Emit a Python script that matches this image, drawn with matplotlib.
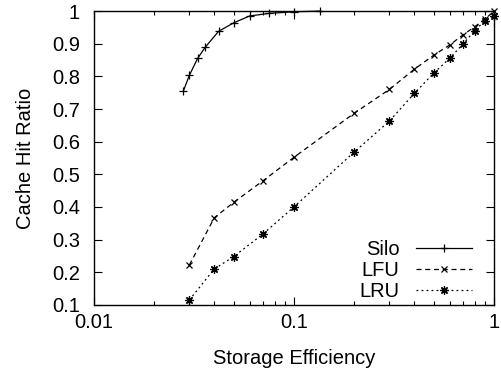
import matplotlib
matplotlib.use('Agg')
import matplotlib.pyplot as plt
from matplotlib.ticker import FixedLocator, LogLocator, NullFormatter, FuncFormatter

plt.rcParams['font.family'] = ['Liberation Sans', 'DejaVu Sans']

# data
silo_x = [0.028, 0.03, 0.033, 0.036, 0.042, 0.05, 0.06, 0.075, 0.1, 0.135]
silo_y = [0.755, 0.803, 0.855, 0.889, 0.938, 0.964, 0.985, 0.993, 0.998, 1.0]
lfu_x = [0.03, 0.04, 0.05, 0.07, 0.1, 0.2, 0.3, 0.4, 0.5, 0.6, 0.7, 0.8, 0.9, 1.0]
lfu_y = [0.222, 0.367, 0.414, 0.48, 0.552, 0.687, 0.76, 0.822, 0.865, 0.896, 0.927, 0.952, 0.975, 1.0]
lru_x = [0.03, 0.04, 0.05, 0.07, 0.1, 0.2, 0.3, 0.4, 0.5, 0.6, 0.7, 0.8, 0.9, 1.0]
lru_y = [0.115, 0.21, 0.248, 0.317, 0.40, 0.568, 0.663, 0.748, 0.81, 0.855, 0.899, 0.94, 0.97, 0.985]
yticks = [0.1, 0.2, 0.3, 0.4, 0.5, 0.6, 0.7, 0.8, 0.9, 1.0]

FS = 14.5
fig = plt.figure(figsize=(5.02, 3.7), dpi=100)
ax = fig.add_axes([0.187, 0.176, 0.797, 0.794])

kw = dict(color='black', lw=0.9, mew=0.9, clip_on=False)
ax.plot(silo_x, silo_y, marker='+', ms=6, label='Silo', **kw)
ax.plot(lfu_x, lfu_y, ls=(0, (4, 3)), marker='x', ms=5, label='LFU', **kw)
ax.plot(lru_x, lru_y, ls=(0, (1.5, 2.5)), marker=(8, 2, 0), ms=6, label='LRU', **kw)

ax.set_xscale('log')
ax.set_xlim(0.01, 1)
ax.set_ylim(0.1, 1)
ax.xaxis.set_major_locator(FixedLocator([0.01, 0.1, 1]))
ax.xaxis.set_major_formatter(FuncFormatter(lambda v, p: f'{v:g}'))
ax.xaxis.set_minor_locator(LogLocator(base=10, subs=range(2, 10)))
ax.xaxis.set_minor_formatter(NullFormatter())
ax.yaxis.set_major_locator(FixedLocator(yticks))
ax.yaxis.set_major_formatter(FuncFormatter(lambda v, p: f'{v:g}'))

ax.tick_params(which='both', direction='in', top=True, right=True, labelsize=FS, width=0.8)
ax.tick_params(which='major', length=6)
ax.tick_params(which='minor', length=3)
ax.tick_params(axis='x', which='major', pad=6)
ax.tick_params(axis='y', which='major', pad=10)
for s in ax.spines.values():
    s.set_linewidth(1.0)

ax.set_xlabel('Storage Efficiency', fontsize=FS, labelpad=12)
ax.set_ylabel('Cache Hit Ratio', fontsize=FS, labelpad=12)

ax.legend(loc='lower right', frameon=False, markerfirst=False, fontsize=FS,
          handlelength=2.8, handletextpad=0.8, labelspacing=0.1,
          bbox_to_anchor=(0.965, -0.015), borderaxespad=0.0)

fig.savefig('out.png', dpi=100)
